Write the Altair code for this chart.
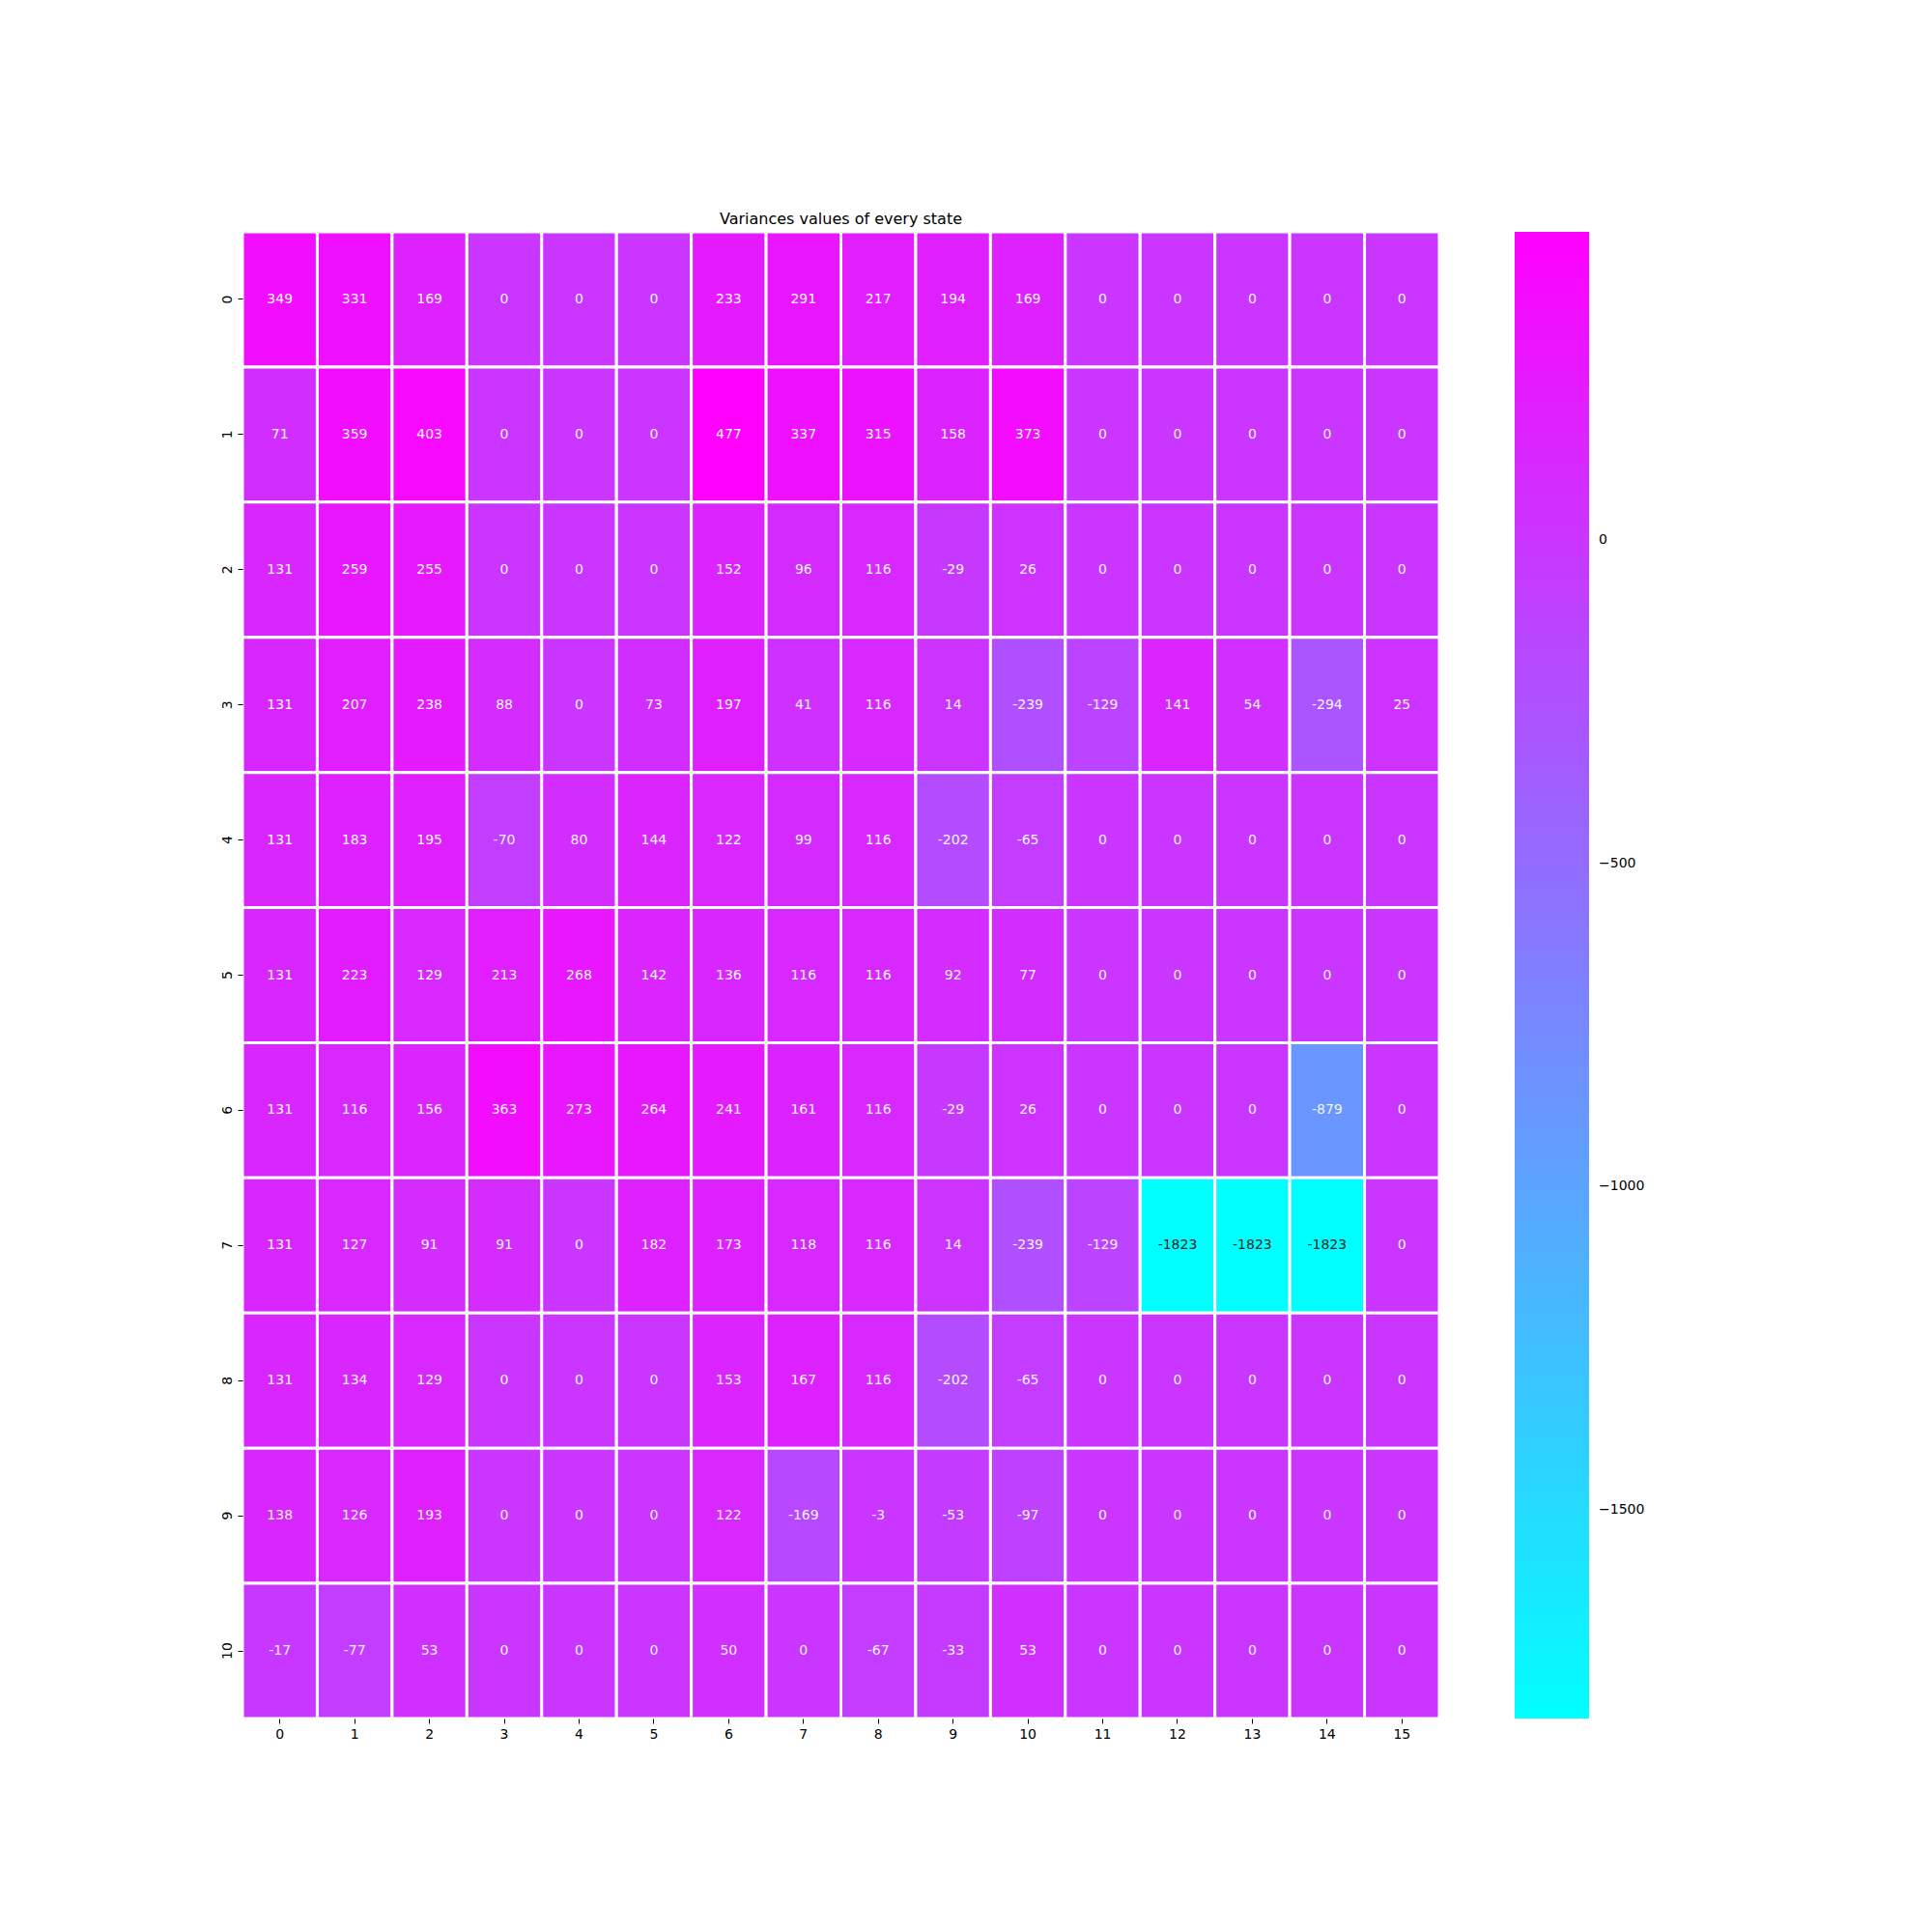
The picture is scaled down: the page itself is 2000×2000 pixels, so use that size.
import altair as alt
import pandas as pd

cols = list(range(16))
rows = list(range(11))

r0 = [349, 331, 169, 0, 0, 0, 233, 291, 217, 194, 169, 0, 0, 0, 0, 0]
r1 = [71, 359, 403, 0, 0, 0, 477, 337, 315, 158, 373, 0, 0, 0, 0, 0]
r2 = [131, 259, 255, 0, 0, 0, 152, 96, 116, -29, 26, 0, 0, 0, 0, 0]
r3 = [131, 207, 238, 88, 0, 73, 197, 41, 116, 14, -239, -129, 141, 54, -294, 25]
r4 = [131, 183, 195, -70, 80, 144, 122, 99, 116, -202, -65, 0, 0, 0, 0, 0]
r5 = [131, 223, 129, 213, 268, 142, 136, 116, 116, 92, 77, 0, 0, 0, 0, 0]
r6 = [131, 116, 156, 363, 273, 264, 241, 161, 116, -29, 26, 0, 0, 0, -879, 0]
r7 = [131, 127, 91, 91, 0, 182, 173, 118, 116, 14, -239, -129, -1823, -1823, -1823, 0]
r8 = [131, 134, 129, 0, 0, 0, 153, 167, 116, -202, -65, 0, 0, 0, 0, 0]
r9 = [138, 126, 193, 0, 0, 0, 122, -169, -3, -53, -97, 0, 0, 0, 0, 0]
r10 = [-17, -77, 53, 0, 0, 0, 50, 0, -67, -33, 53, 0, 0, 0, 0, 0]
matrix = [r0, r1, r2, r3, r4, r5, r6, r7, r8, r9, r10]

records = []
for i, row in zip(rows, matrix):
    for j, v in zip(cols, row):
        records.append({"row": str(i), "col": str(j), "value": v, "label": str(v)})
df = pd.DataFrame(records)

vmin, vmax = -1823, 477
FONT = "DejaVu Sans"

xenc = alt.X("col:O", sort=[str(c) for c in cols],
             scale=alt.Scale(paddingInner=0, paddingOuter=0),
             axis=alt.Axis(title=None, labelAngle=0, domain=False, tickSize=5,
                           labelFontSize=14, labelFont=FONT, labelColor="black",
                           tickColor="black", labelPadding=4))
yenc = alt.Y("row:O", sort=[str(r) for r in rows],
             scale=alt.Scale(paddingInner=0, paddingOuter=0),
             axis=alt.Axis(title=None, labelAngle=270, domain=False, tickSize=5,
                           labelFontSize=14, labelFont=FONT, labelColor="black",
                           tickColor="black", labelPadding=4, labelBaseline="bottom",
                           labelAlign="center"))

rect = alt.Chart(df).mark_rect(stroke="white", strokeWidth=3).encode(
    x=xenc,
    y=yenc,
    color=alt.Color("value:Q",
                    scale=alt.Scale(domain=[vmin, vmax], range=["#00ffff", "#ff00ff"],
                                    interpolate="rgb"),
                    legend=alt.Legend(title=None, orient="none", legendX=1317, legendY=0,
                                      direction="vertical", gradientLength=1539,
                                      gradientThickness=77, values=[-1500, -1000, -500, 0],
                                      format="d",
                                      labelFontSize=14, labelFont=FONT, labelColor="black",
                                      labelOffset=10, gradientStrokeWidth=0)),
)

text = alt.Chart(df).mark_text(fontSize=14, font=FONT).encode(
    x=alt.X("col:O", sort=[str(c) for c in cols]),
    y=alt.Y("row:O", sort=[str(r) for r in rows]),
    text="label:N",
    color=alt.condition("datum.value < -1500", alt.value("#262626"), alt.value("#f4f4f4")),
)

chart = (rect + text).properties(
    width=1239,
    height=1539,
    title=alt.Title("Variances values of every state", fontSize=16, font=FONT,
                    fontWeight="normal", color="black", offset=4),
    autosize=alt.AutoSizeParams(type="none"),
    padding={"left": 243, "top": 232, "right": 300, "bottom": 200},
).configure_view(stroke=None)

chart.save("out.html", embed_options={"renderer": "svg", "actions": False})
